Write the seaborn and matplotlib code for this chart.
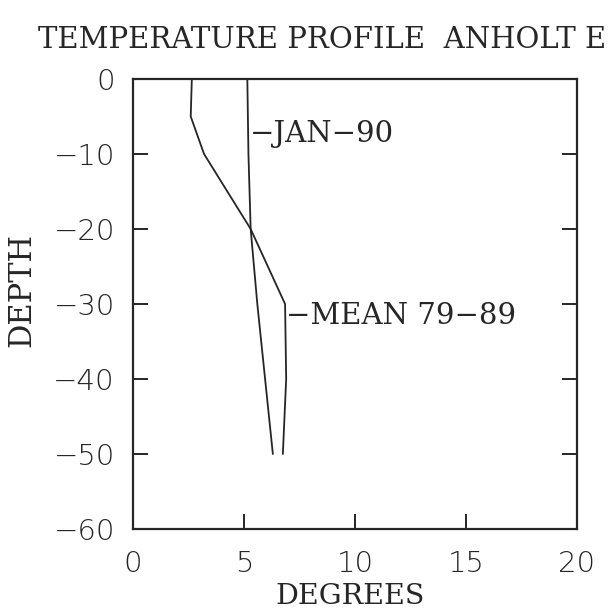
import matplotlib
matplotlib.use("Agg")
import matplotlib.pyplot as plt
import seaborn as sns
import pandas as pd

# data
jan_temp = [5.15, 5.2, 5.3, 5.6, 5.95, 6.3]
jan_depth = [0, -10, -20, -30, -40, -50]
mean_temp = [2.65, 2.6, 3.2, 5.3, 6.85, 6.9, 6.75]
mean_depth = [0, -5, -10, -20, -30, -40, -50]
series_names = ["JAN-90", "MEAN 79-89"]
x_ticks = [0, 5, 10, 15, 20]
y_ticks = [0, -10, -20, -30, -40, -50, -60]

df = pd.DataFrame({
    "temp": jan_temp + mean_temp,
    "depth": jan_depth + mean_depth,
    "series": [series_names[0]] * len(jan_temp) + [series_names[1]] * len(mean_temp),
})

sns.set_style("white")
ink = "#262626"
serif = ["DejaVu Serif"]

fig = plt.figure(figsize=(6.14, 6.09), dpi=100)
ax = fig.add_axes([133 / 614, 1 - 529 / 609, (577 - 133) / 614, (529 - 79) / 609])

sns.lineplot(data=df, x="temp", y="depth", hue="series", sort=False, estimator=None,
             units="series", palette=[ink, ink], legend=False, linewidth=1.3, ax=ax)

ax.set_xlim(0, 20)
ax.set_ylim(-60, 0)
ax.set_xticks(x_ticks)
ax.set_yticks(y_ticks)
ax.set_xticklabels([str(v) for v in x_ticks])
ax.set_yticklabels([("\u2212" + str(-v)) if v < 0 else str(v) for v in y_ticks])

for s in ax.spines.values():
    s.set_visible(True)
    s.set_color(ink)
    s.set_linewidth(1.6)

ax.tick_params(axis="both", direction="in", length=11, width=1.4, color=ink,
               labelsize=21, labelcolor=ink)
ax.tick_params(axis="y", right=True, left=True, pad=13)
ax.tick_params(axis="x", bottom=True, top=False, pad=15)
for lab in ax.get_xticklabels() + ax.get_yticklabels():
    lab.set_family(["DejaVu Sans"])
    lab.set_fontweight("light")

ax.set_xlabel("DEGREES", family=serif, fontsize=20.5, color=ink)
ax.set_ylabel("DEPTH", family=serif, fontsize=22, color=ink)
ax.xaxis.set_label_coords((350 - 133) / 444, (529 - 596) / 450)
ax.yaxis.set_label_coords((22 - 133) / 444, (529 - 290) / 450)
ax.xaxis.label.set_va("center")
ax.yaxis.label.set_va("center")

fig.text(322 / 614, 1 - 40 / 609, "TEMPERATURE PROFILE  ANHOLT E", family=serif,
         fontsize=21, color=ink, ha="center", va="center")

ax.text(jan_temp[0] + 0.1, -7.3, "\u2212JAN\u221290", family=serif, fontsize=21,
        color=ink, ha="left", va="center")
ax.text(mean_temp[4] + 0.05, -31.6, "\u2212MEAN 79\u221289", family=serif, fontsize=21,
        color=ink, ha="left", va="center")

fig.savefig("out.png", dpi=100, facecolor="white")
